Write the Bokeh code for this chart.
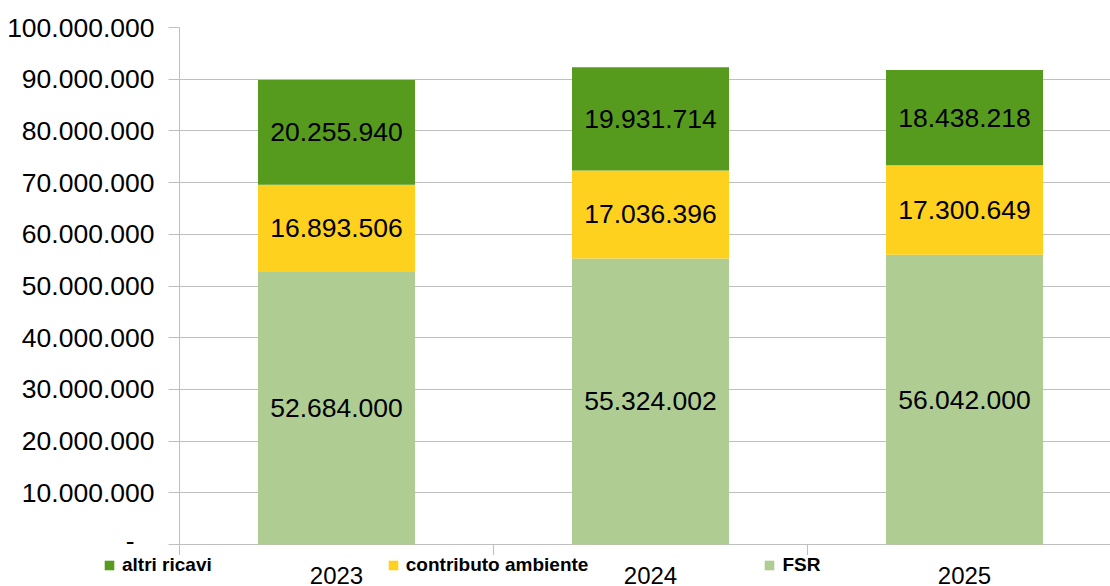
from bokeh.plotting import figure
from bokeh.layouts import column
from bokeh.models import (ColumnDataSource, Range1d, FixedTicker, Legend, LegendItem)
from bokeh.core.properties import value
from bokeh.embed import file_html
from bokeh.resources import INLINE

years = ["2023", "2024", "2025"]
fsr = [52684000, 55324002, 56042000]
contributo = [16893506, 17036396, 17300649]
altri = [20255940, 19931714, 18438218]
y_ticks = [0, 10000000, 20000000, 30000000, 40000000, 50000000,
           60000000, 70000000, 80000000, 90000000, 100000000]
series_names = ["altri ricavi", "contributo ambiente", "FSR"]
colors = {"altri ricavi": "#579B1E", "contributo ambiente": "#FFD11F", "FSR": "#AFCD93"}


def fmt(v):
    return f"{v:,}".replace(",", ".")


# layout in pixels
W, H = 1110, 586
left = 179
top = 27
plot_h = 517            # pixels from 0 to 100.000.000
tick_px = 11            # tick marks below the zero line
H1 = top + plot_h + tick_px
H2 = H - H1
cat_px = 314            # pixels per category
frame_w = W - left
ymax = 100000000
per_px = ymax / plot_h  # data units per pixel
ymin = -tick_px * per_px

xs = [i + 0.5 for i in range(len(years))]
b1 = [0] * len(years)
t1 = list(fsr)
t2 = [a + b for a, b in zip(t1, contributo)]
t3 = [a + b for a, b in zip(t2, altri)]

src = ColumnDataSource(dict(
    x=xs,
    b1=b1, t1=t1, t2=t2, t3=t3,
    m1=[(a + b) / 2 for a, b in zip(b1, t1)],
    m2=[(a + b) / 2 for a, b in zip(t1, t2)],
    m3=[(a + b) / 2 for a, b in zip(t2, t3)],
    l1=[fmt(v) for v in fsr],
    l2=[fmt(v) for v in contributo],
    l3=[fmt(v) for v in altri],
))

p = figure(width=W, height=H1, output_backend="svg", toolbar_location=None,
           x_range=Range1d(0, frame_w / cat_px), y_range=Range1d(ymin, ymax),
           min_border_left=left, min_border_right=0, min_border_top=top,
           min_border_bottom=0, x_axis_location=None)
p.frame_align = False
p.outline_line_color = None
p.background_fill_color = "white"
p.border_fill_color = "white"

grid_c = "#BFBFBF"
r_fsr = p.vbar(x="x", bottom="b1", top="t1", width=0.5, source=src,
               fill_color=colors["FSR"], line_color=None)
r_con = p.vbar(x="x", bottom="t1", top="t2", width=0.5, source=src,
               fill_color=colors["contributo ambiente"], line_color=None)
r_alt = p.vbar(x="x", bottom="t2", top="t3", width=0.5, source=src,
               fill_color=colors["altri ricavi"], line_color=None)

for m, l in (("m1", "l1"), ("m2", "l2"), ("m3", "l3")):
    p.text(x="x", y=m, text=l, source=src, text_align="center", text_baseline="middle",
           text_font=value("Liberation Sans"), text_font_size="26.5px", text_color="black")

# category tick marks (between categories)
bounds_x = [1, 2]
p.segment(x0=bounds_x, x1=bounds_x, y0=[0, 0], y1=[ymin, ymin],
          line_color=grid_c, line_width=1)

# y axis
p.yaxis.ticker = FixedTicker(ticks=y_ticks)
ov = {t: fmt(t) for t in y_ticks}
ov[0] = "-\u00a0\u00a0\u2009"
p.yaxis.major_label_overrides = ov
p.yaxis.major_label_text_font = "Liberation Sans"
p.yaxis.major_label_text_font_size = "26.5px"
p.yaxis.major_label_text_color = "black"
p.yaxis.major_tick_out = 11
p.yaxis.major_tick_in = 0
p.yaxis.minor_tick_line_color = None
p.yaxis.major_tick_line_color = grid_c
p.yaxis.axis_line_color = grid_c
p.yaxis.major_label_standoff = 14

p.xgrid.grid_line_color = None
p.ygrid.grid_line_color = grid_c
p.ygrid.ticker = FixedTicker(ticks=y_ticks)

# lower strip: legend and category labels
q = figure(width=W, height=H2, output_backend="svg", toolbar_location=None,
           x_range=Range1d(-left / cat_px, frame_w / cat_px), y_range=Range1d(0, H2),
           min_border_left=0, min_border_right=0, min_border_top=0,
           min_border_bottom=0, x_axis_location=None, y_axis_location=None)
q.frame_align = False
q.outline_line_color = None
q.xgrid.grid_line_color = None
q.ygrid.grid_line_color = None
q.background_fill_color = "white"
q.border_fill_color = "white"

ysrc = ColumnDataSource(dict(x=xs, year=years, yy=[2.5] * len(years)))
q.text(x="x", y="yy", text="year", source=ysrc, text_align="center",
       text_baseline="bottom", text_font=value("Liberation Sans"),
       text_font_size="24px", text_color="black")

# zero-height bars, only used to give the legend its swatches
leg_r = [q.vbar(x=[xs[0]], bottom=[0], top=[0], width=0.5,
                fill_color=colors[n], line_color=None)
         for n in series_names]

legend = Legend(items=[LegendItem(label=n, renderers=[r]) for n, r in zip(series_names, leg_r)],
                location=(103, 10), orientation="horizontal")
legend.label_text_font = "Liberation Sans"
legend.label_text_font_style = "bold"
legend.label_text_font_size = "19px"
legend.label_text_color = "black"
legend.glyph_width = 12
legend.glyph_height = 12
legend.label_standoff = 7
legend.spacing = 175
legend.padding = 0
legend.margin = 0
legend.border_line_color = None
legend.background_fill_alpha = 0
q.add_layout(legend, "center")

layout = column(p, q, spacing=0)
open("out.html", "w").write(file_html(layout, INLINE))
